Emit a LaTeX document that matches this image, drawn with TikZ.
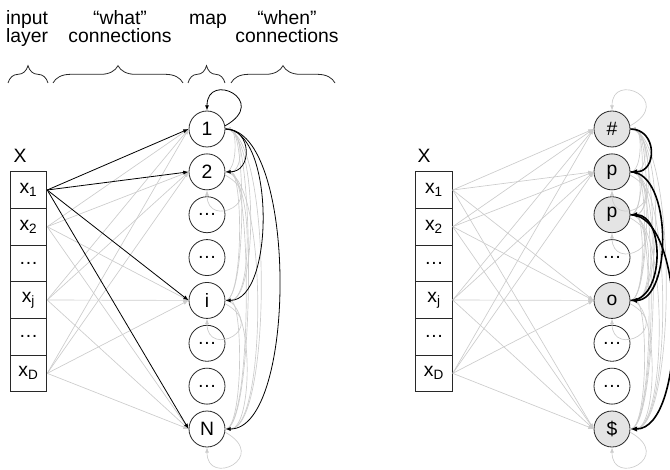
\documentclass[tikz,border=0pt]{standalone}
\usepackage{fontspec}
\setmainfont{Liberation Sans}
\usetikzlibrary{arrows.meta,decorations.pathreplacing}
\definecolor{lg}{RGB}{204,204,204}
\definecolor{dk}{RGB}{40,40,40}
\definecolor{hl}{RGB}{228,228,228}
\begin{document}
\begin{tikzpicture}[x=0.75pt,y=0.75pt,
  every node/.style={font=\fontsize{14.5}{14}\selectfont},
  unit/.style={circle,draw=dk,line width=0.6pt,fill=white,minimum size=27pt,inner sep=0pt},
  hunit/.style={unit,fill=hl},
  cell/.style={rectangle,draw=dk,line width=0.6pt,minimum width=27.5pt,minimum height=27.5pt,inner sep=0pt},
  gline/.style={draw=lg,line width=0.5pt,-{Latex[length=4pt,width=3pt]}},
  bline/.style={draw=black,line width=0.6pt,-{Latex[length=4pt,width=3pt]}},
  bthick/.style={draw=black,line width=1.2pt,-{Latex[length=5pt,width=4pt]}},
  brc/.style={draw=dk,line width=0.6pt,decorate,decoration={brace,amplitude=13pt}},
]
\useasboundingbox (0,0) rectangle (670,-470);

% top labels
\node[anchor=base] (t1a) at (27,-25) {input};
\node[anchor=base] (t1b) at (27,-43) {layer};
\node[anchor=base] (t2a) at (120,-25) {“what”};
\node[anchor=base] (t2b) at (120,-43) {connections};
\node[anchor=base] (t3) at (208,-25) {map};
\node[anchor=base] (t4a) at (287,-25) {“when”};
\node[anchor=base] (t4b) at (287,-43) {connections};

% braces
\draw[brc] (8,-83) -- (48,-83);
\draw[brc] (53,-83) -- (183,-83);
\draw[brc] (188,-83) -- (225,-83);
\draw[brc] (231,-83) -- (335,-83);

% X labels
\node[anchor=base] (LXl) at (20,-163) {X};
\node[anchor=base] (RXl) at (424,-163) {X};

% input cells
\foreach \p/\xc in {L/28.5,R/434}{
  \node[cell] (\p X1) at (\xc,-190) {x\textsubscript{1}};
  \node[cell] (\p X2) at (\xc,-226.67) {x\textsubscript{2}};
  \node[cell] (\p X3) at (\xc,-263.33) {\dots};
  \node[cell] (\p X4) at (\xc,-300) {x\textsubscript{j}};
  \node[cell] (\p X5) at (\xc,-336.67) {\dots};
  \node[cell] (\p X6) at (\xc,-373.33) {x\textsubscript{D}};
}

% map nodes left
\node[unit] (L1) at (207,-129) {1};
\node[unit] (L2) at (207,-171.86) {2};
\node[unit] (L3) at (207,-214.71) {\dots};
\node[unit] (L4) at (207,-257.57) {\dots};
\node[unit] (L5) at (207,-300.43) {i};
\node[unit] (L6) at (207,-343.29) {\dots};
\node[unit] (L7) at (207,-386.14) {\dots};
\node[unit] (L8) at (207,-429) {N};

% map nodes right
\node[hunit] (R1) at (612,-129) {\#};
\node[hunit] (R2) at (612,-171.86) {p};
\node[hunit] (R3) at (612,-214.71) {p};
\node[unit] (R4) at (612,-257.57) {\dots};
\node[hunit] (R5) at (612,-300.43) {o};
\node[unit] (R6) at (612,-343.29) {\dots};
\node[unit] (R7) at (612,-386.14) {\dots};
\node[hunit] (R8) at (612,-429) {\$};

% what connections (gray)
\foreach \r in {2,4,6}{
  \foreach \n in {1,2,5,8}{
    \draw[gline] (LX\r.east) -- (L\n.west);
  }
}
\foreach \r in {1,2,4,6}{
  \foreach \n in {1,2,5,8}{
    \draw[gline] (RX\r.east) -- (R\n.west);
  }
}

% when connections (gray) left
\foreach \a/\b in {1/2,1/5,1/8,2/5,2/8,5/8}{
  \pgfmathsetmacro\c{0.11*42.86*(\b-\a)+14}
  \pgfmathsetmacro\d{0.07*42.86*(\b-\a)+9}
  \draw[gline] (L\a.east) .. controls +(\c,0) and +(\c,0) .. (L\b.east);
  \draw[gline] (L\b.east) .. controls +(\d,0) and +(\d,0) .. (L\a.east);
}
% when connections (gray) right
\foreach \a/\b in {1/2,1/3,1/5,1/8,2/3,2/5,2/8,3/5,3/8,5/8}{
  \pgfmathsetmacro\c{0.11*42.86*(\b-\a)+14}
  \pgfmathsetmacro\d{0.07*42.86*(\b-\a)+9}
  \draw[gline] (R\a.east) .. controls +(\c,0) and +(\c,0) .. (R\b.east);
  \draw[gline] (R\b.east) .. controls +(\d,0) and +(\d,0) .. (R\a.east);
}

% self loops
\foreach \n in {2,5,8}{
  \draw[gline] (L\n.-10) .. controls +(45,-25) and +(0,-40) .. (L\n.south);
}
\foreach \n in {2,3,5,8}{
  \draw[gline] (R\n.-10) .. controls +(45,-25) and +(0,-40) .. (R\n.south);
}
\draw[gline] (R1.10) .. controls +(45,25) and +(0,40) .. (R1.north);
\draw[bline] (L1.10) .. controls +(45,25) and +(0,40) .. (L1.north);

% black what connections
\foreach \n in {1,2,5,8}{
  \draw[bline] (LX1.east) -- (L\n.west);
}

% black when connections left
\foreach \b in {2,5,8}{
  \pgfmathsetmacro\c{0.175*42.86*(\b-1)+19.5}
  \draw[bline] (L1.east) .. controls +(\c,0) and +(\c,0) .. (L\b.east);
}

% black when connections right
\foreach \a/\b in {1/2,2/5,5/3,3/8}{
  \pgfmathsetmacro\c{0.175*42.86*abs(\b-\a)+19.5}
  \draw[bthick] (R\a.east) .. controls +(\c,0) and +(\c,0) .. (R\b.east);
}
\end{tikzpicture}
\end{document}
